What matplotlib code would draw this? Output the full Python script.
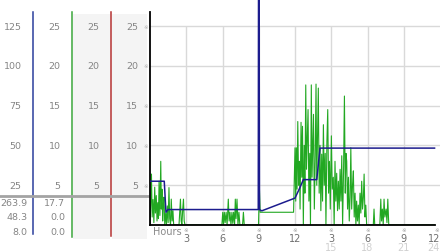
import matplotlib
matplotlib.use("Agg")
import matplotlib.pyplot as plt
import matplotlib.transforms as mtransforms
from matplotlib.patches import Rectangle

# ---------------- data ----------------
gust_hours = [0.0, 1.18, 1.32, 1.49, 8.96, 9.0, 9.06, 9.25, 12.0, 12.42, 12.69, 13.8, 14.07, 23.55]
gust_mph = [27.5, 27.5, 8.0, 9.7, 9.7, 263.9, 9.7, 8.9, 16.9, 23.7, 28.5, 28.5, 48.3, 48.3]

wind_hours = [
    0.0, 0.06, 0.12, 0.18, 0.25, 0.32, 0.39, 0.45, 0.52, 0.58, 0.64, 0.70, 0.75, 0.82, 0.89, 0.94,
    0.99, 1.05, 1.10, 1.16, 1.22, 1.30, 1.36, 1.43, 1.50, 1.57, 1.63, 1.70, 1.76, 1.83, 1.90, 1.96,
    2.40, 2.46, 2.52, 2.58, 2.64, 2.70, 2.77, 2.83, 2.90,
    5.95, 6.02, 6.08, 6.15, 6.22, 6.30, 6.38, 6.48, 6.55, 6.62, 6.70, 6.78, 6.85, 6.92, 7.00, 7.06,
    7.12, 7.20, 7.28, 7.36, 7.44, 7.52, 7.66, 7.73, 7.80, 7.86,
    8.98, 9.05, 9.12, 11.88,
    12.00, 12.06, 12.11, 12.17, 12.23, 12.30, 12.36, 12.42, 12.50, 12.56, 12.62, 12.69, 12.76, 12.82,
    12.89, 12.95, 13.02, 13.08, 13.15, 13.22, 13.28, 13.35, 13.41, 13.47, 13.53, 13.60, 13.67, 13.74,
    13.80, 13.87, 13.93, 14.00, 14.07, 14.14, 14.21, 14.28, 14.35, 14.42, 14.50, 14.56, 14.64, 14.71,
    14.78, 14.85, 14.92, 15.01, 15.08, 15.17, 15.24, 15.31, 15.38, 15.45, 15.52, 15.59, 15.66, 15.73,
    15.80, 15.87, 15.94, 16.02, 16.09, 16.16, 16.22, 16.28, 16.35, 16.42, 16.49, 16.56, 16.62, 16.69,
    16.76, 16.83, 16.90, 16.97, 17.04, 17.10, 17.17, 17.24, 17.31, 17.38, 17.45, 17.52, 17.59, 17.66,
    17.72, 17.79, 17.86, 17.93, 18.00,
    18.48, 18.54, 18.60, 19.02, 19.10, 19.16, 19.23, 19.30, 19.37, 19.44, 19.54, 19.61, 19.68, 19.76,
    23.55,
]
wind_mph = [
    0.0, 2.5, 6.4, 1.0, 3.2, 0.3, 4.75, 1.5, 3.7, 0.5, 2.8, 0.8, 5.5, 1.2, 8.0, 2.0,
    4.5, 0.5, 2.5, 3.5, 0.0, 1.5, 0.0, 2.4, 0.3, 4.7, 0.8, 0.0, 3.25, 0.5, 1.8, 0.0,
    0.0, 1.6, 3.25, 0.5, 0.0, 1.8, 3.25, 0.5, 0.0,
    0.0, 1.6, 0.0, 1.6, 0.3, 1.6, 0.0, 3.25, 0.5, 1.6, 0.0, 1.6, 0.2, 1.6, 0.0, 3.25,
    0.8, 3.25, 0.0, 1.6, 0.0, 0.0, 0.0, 1.6, 0.0, 0.0,
    0.0, 4.8, 1.6, 1.6,
    9.7, 3.0, 9.7, 4.5, 13.0, 5.0, 8.0, 2.0, 12.9, 6.0, 12.4, 0.0, 10.0, 4.0,
    17.6, 7.0, 11.0, 14.5, 3.0, 9.0, 0.0, 17.6, 6.0, 10.0, 13.9, 2.0, 8.0, 17.7,
    5.0, 12.0, 17.2, 4.0, 10.0, 1.8, 8.9, 3.0, 12.6, 5.0, 9.0, 0.0, 10.5, 14.5,
    4.0, 8.0, 2.0, 11.2, 4.5, 6.0, 0.0, 8.0, 3.0, 6.5, 1.8, 5.5, 2.0, 7.0,
    3.0, 8.7, 0.0, 7.0, 16.2, 4.0, 9.0, 8.0, 2.0, 6.0, 0.5, 3.5, 9.7, 2.0,
    5.0, 6.8, 1.0, 4.0, 0.0, 3.0, 0.5, 2.5, 0.0, 4.0, 1.5, 5.5, 2.0, 3.5,
    6.4, 1.0, 2.5, 0.0, 0.0,
    0.0, 2.0, 0.0, 0.0, 3.25, 0.5, 2.0, 0.0, 3.25, 1.0, 2.0, 0.3, 3.25, 0.0,
    0.0,
]

wind_ticks = [5, 10, 15, 20, 25]
gust_ticks = [25, 50, 75, 100, 125]
hour_ticks = [3, 6, 9, 12, 15, 18, 21, 24]
hour_labels = ["3", "6", "9", "12", "3", "6", "9", "12"]
hour2_ticks = [15, 18, 21, 24]
hour2_labels = ["15", "18", "21", "24"]
gust_stats = ["263.9", "48.3", "8.0"]
wind_stats = ["17.7", "0.0", "0.0"]
legend_labels = ["Gust 03/15/12", "Wind 03/15/12"]

# ---------------- style ----------------
W, H, DPI = 442, 253, 100
GUST_C = "#1c1c8e"
WIND_C = "#22a822"
GRID_C = "#d9d9d9"
TXT_C = "#858585"
PX_PER_UNIT = 7.96
ZERO_Y = 226

fig = plt.figure(figsize=(W / DPI, H / DPI), dpi=DPI)
fig.patch.set_facecolor("white")

bg = fig.add_axes([0, 0, 1, 1])
bg.set_xlim(0, W)
bg.set_ylim(H, 0)
bg.axis("off")

ax = fig.add_axes([150 / W, (H - ZERO_Y) / H, 290 / W, ZERO_Y / H])
top_val = ZERO_Y / PX_PER_UNIT
ax.set_xlim(0, 24)
ax.set_ylim(0, top_val)
ax.set_facecolor("white")
ax.set_xticks([])
ax.set_yticks([])
for s in ["top", "right"]:
    ax.spines[s].set_visible(False)
ax.spines["left"].set_color("black")
ax.spines["left"].set_linewidth(1.3)
ax.spines["left"].set_bounds(0, 26.8)
ax.spines["bottom"].set_color("black")
ax.spines["bottom"].set_linewidth(1.3)
ax.spines["bottom"].set_bounds(0, 23.55)

for v in wind_ticks:
    ax.axhline(v, color=GRID_C, lw=1.0, zorder=0)
ax.vlines(hour_ticks[:-1], 0, wind_ticks[-1], color=GRID_C, lw=1.0, zorder=0)

ax.plot(wind_hours, wind_mph, color=WIND_C, lw=0.8, zorder=2)

ax2 = ax.twinx()
ax2.set_ylim(0, top_val * 5)
ax2.set_xlim(0, 24)
ax2.axis("off")
ax2.plot(gust_hours, gust_mph, color=GUST_C, lw=1.1, zorder=3)

# ---------------- left panel ----------------
bg.add_patch(Rectangle((73, 15), 37, 225, color="#f4f4f4", lw=0))
bg.add_patch(Rectangle((112, 15), 35, 225, color="#f4f4f4", lw=0))
bg.plot([33.3, 33.3], [12.7, 235], color="#2b3f9c", lw=1.1)
bg.plot([72.3, 72.3], [12.7, 238], color="#3aa53a", lw=1.1)
bg.plot([111, 111], [12.7, 237], color="#b33030", lw=1.1)
bg.plot([0, 148], [196.7, 196.7], color="#a3a3a3", lw=2.0)

tr_wind = mtransforms.blended_transform_factory(bg.transData, ax.transData)
tr_gust = mtransforms.blended_transform_factory(bg.transData, ax2.transData)
fs = 6.8
for v in gust_ticks:
    bg.text(21.5, v, str(v), transform=tr_gust, ha="right", va="center", fontsize=fs, color=TXT_C)
for v in wind_ticks:
    bg.text(60.5, v, str(v), transform=tr_wind, ha="right", va="center", fontsize=fs, color=TXT_C)
    bg.text(99.5, v, str(v), transform=tr_wind, ha="right", va="center", fontsize=fs, color=TXT_C)
    bg.text(138, v, str(v), transform=tr_wind, ha="right", va="center", fontsize=fs, color=TXT_C)
    bg.text(145.5, v, "※", transform=tr_wind, ha="center", va="center", fontsize=4, color="#b0b0b0")

for i, (g, w) in enumerate(zip(gust_stats, wind_stats)):
    y = 203.5 + i * 14.5
    bg.text(27.5, y, g, ha="right", va="center", fontsize=fs, color=TXT_C)
    bg.text(65, y, w, ha="right", va="center", fontsize=fs, color=TXT_C)

# ---------------- x labels ----------------
tr_x = mtransforms.blended_transform_factory(ax.transData, bg.transData)
for h, lab in zip(hour_ticks, hour_labels):
    ha = "right" if h == hour_ticks[-1] else "center"
    dx = 0.1 if h == hour_ticks[-1] else 0
    bg.text(h - dx, 231, "※", transform=tr_x, ha=ha, va="center", fontsize=4, color="#a0a0a0")
    bg.text(h, 239.5, lab, transform=tr_x, ha=ha, va="center", fontsize=7, color="#6e6e6e")
for h, lab in zip(hour2_ticks, hour2_labels):
    ha = "right" if h == hour2_ticks[-1] else "center"
    bg.text(h, 248, lab, transform=tr_x, ha=ha, va="center", fontsize=7, color="#d0d0d0")
bg.text(153, 232, "Hours", ha="left", va="center", fontsize=7, color="#8a8a8a")

# ---------------- legend ----------------
bg.plot([160.7], [20], "o", ms=3.6, color="#a8a8a8", mec="#999999", mew=0.5)
bg.text(165.5, 20.5, legend_labels[0], ha="left", va="center", fontsize=7, color=GUST_C)
bg.plot([301.5], [20], "o", ms=3.6, color="#a8a8a8", mec="#999999", mew=0.5)
bg.text(306.5, 20.5, legend_labels[1], ha="left", va="center", fontsize=7, color=WIND_C)

fig.savefig("out.png", dpi=DPI)
